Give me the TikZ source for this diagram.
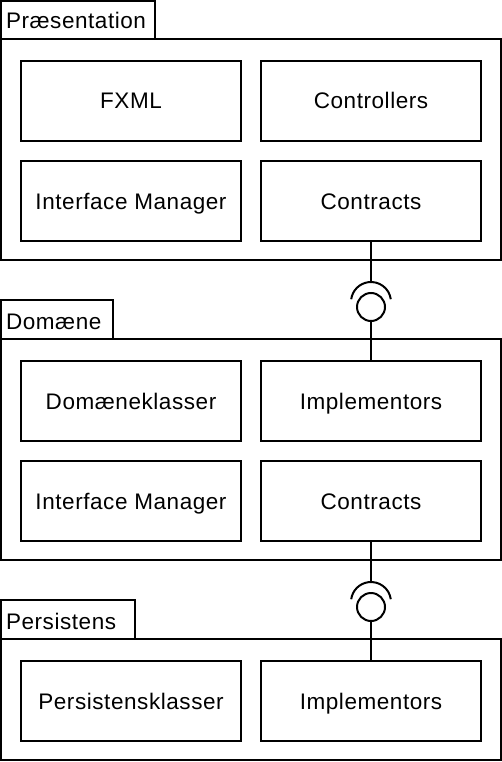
\documentclass[tikz,border=0pt]{standalone}
\usepackage{fontspec}
\setmainfont{Liberation Sans}[LetterSpace=2.5]
\usetikzlibrary{positioning}

\begin{document}
\begin{tikzpicture}[x=1pt,y=-1pt,line width=2pt,
		box/.style={draw,rectangle,minimum width=220pt,minimum height=80pt,inner sep=0pt,text height=16pt,text depth=0pt,font=\fontsize{22.5}{26}\selectfont},
		tab/.style={anchor=west,inner sep=0pt,text height=16pt,text depth=0pt,font=\fontsize{22.5}{26}\selectfont}]
			\useasboundingbox (0,0) rectangle (502,762);
			% Praesentation
			\draw (1,1) rectangle (155,39);
			\draw (5,21) node [tab] (t1) {Præsentation};
			\draw (1,39) rectangle (501,260);
			\draw (131,101) node [box] (1) {FXML};
			\draw (371,101) node [box] (2) {Controllers};
			\draw (131,201) node [box] (3) {Interface Manager};
			\draw (371,201) node [box] (4) {Contracts};
			% Domaene
			\draw (1,300) rectangle (113,339);
			\draw (5,321) node [tab] (t2) {Domæne};
			\draw (1,339) rectangle (501,560);
			\draw (131,401) node [box] (5) {Domæneklasser};
			\draw (371,401) node [box] (6) {Implementors};
			\draw (131,501) node [box] (7) {Interface Manager};
			\draw (371,501) node [box] (8) {Contracts};
			% Persistens
			\draw (1,600) rectangle (135,639);
			\draw (5,621) node [tab] (t3) {Persistens};
			\draw (1,639) rectangle (501,760);
			\draw (131,701) node [box] (9) {Persistensklasser};
			\draw (371,701) node [box] (10) {Implementors};
			% sockets and balls
			\draw (371,302) coordinate (s1);
			\draw (371,602) coordinate (s2);
			\draw (371,307) node [circle,draw,minimum size=28pt,inner sep=0pt] (b1) {};
			\draw (371,607) node [circle,draw,minimum size=28pt,inner sep=0pt] (b2) {};
			\draw ([shift={(8:20pt)}]s1) arc [start angle=8,end angle=172,radius=20pt];
			\draw ([shift={(8:20pt)}]s2) arc [start angle=8,end angle=172,radius=20pt];
			\draw (4.south) -- ([yshift=20pt]s1);
			\draw (b1.south) -- (6.north);
			\draw (8.south) -- ([yshift=20pt]s2);
			\draw (b2.south) -- (10.north);
		\end{tikzpicture}
\end{document}
